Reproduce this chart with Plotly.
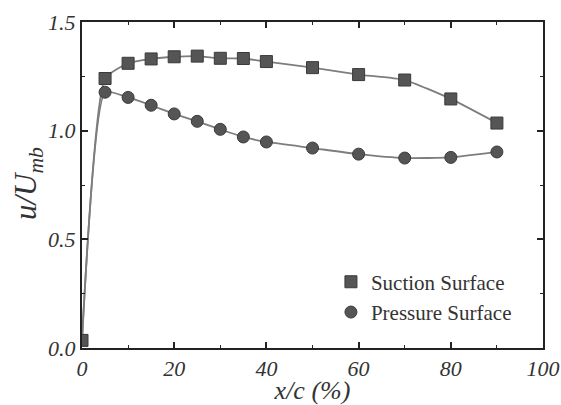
import plotly.graph_objects as go

x_suction = [0, 5, 10, 15, 20, 25, 30, 35, 40, 50, 60, 70, 80, 90]
u_suction = [0.035, 1.24, 1.31, 1.33, 1.34, 1.343, 1.333, 1.332, 1.318, 1.29, 1.258, 1.233, 1.146, 1.035]

x_pressure = [5, 10, 15, 20, 25, 30, 35, 40, 50, 60, 70, 80, 90]
u_pressure = [1.177, 1.153, 1.117, 1.077, 1.043, 1.006, 0.971, 0.948, 0.92, 0.892, 0.874, 0.877, 0.902]
x_pressure_start = 0
u_pressure_start = 0.035

line_color = "#7d7d7d"
mark_color = "#555555"
serif = "Liberation Serif, Times New Roman, Times, serif"

fig = go.Figure()
fig.add_trace(go.Scatter(x=x_suction, y=u_suction, mode="lines",
                         line=dict(color=line_color, width=1.8, shape="spline", smoothing=0.5),
                         showlegend=False, hoverinfo="skip"))
fig.add_trace(go.Scatter(x=[x_pressure_start] + x_pressure, y=[u_pressure_start] + u_pressure, mode="lines",
                         line=dict(color=line_color, width=1.8, shape="spline", smoothing=0.5),
                         showlegend=False, hoverinfo="skip"))
fig.add_trace(go.Scatter(x=x_suction, y=u_suction, mode="markers", name="Suction Surface",
                         marker=dict(symbol="square", size=12, color=mark_color,
                                     line=dict(color="#3a3a3a", width=1))))
fig.add_trace(go.Scatter(x=x_pressure, y=u_pressure, mode="markers", name="Pressure Surface",
                         marker=dict(symbol="circle", size=12, color=mark_color,
                                     line=dict(color="#3a3a3a", width=1))))

axis_common = dict(showgrid=False, zeroline=False, showline=True, linecolor="#222222", linewidth=2,
                   mirror="allticks", ticks="inside", ticklen=6, tickwidth=1.5, tickcolor="#222222",
                   automargin=False,
                   tickfont=dict(family=serif, size=22, color="#333333", style="italic"))

fig.update_xaxes(range=[0, 100], tick0=0, dtick=20,
                 minor=dict(ticks="inside", dtick=10, ticklen=3, tickwidth=1.2, tickcolor="#222222"),
                 title=dict(text="x/c (%)", font=dict(family=serif, size=26, color="#333333", style="italic")),
                 **axis_common)
fig.update_yaxes(range=[0, 1.5], tick0=0, dtick=0.5, tickformat=".1f",
                 minor=dict(ticks="inside", dtick=0.25, ticklen=3, tickwidth=1.2, tickcolor="#222222"),
                 **axis_common)

fig.add_annotation(text="u/U<sub>mb</sub>", xref="paper", yref="paper", x=-0.117, y=0.503,
                   textangle=-90, showarrow=False, xanchor="center", yanchor="middle",
                   font=dict(family=serif, size=31, color="#333333", style="italic"))

fig.update_layout(width=561, height=405, margin=dict(l=82, r=18, t=22, b=57),
                  paper_bgcolor="white", plot_bgcolor="white",
                  legend=dict(x=0.54, y=0.265, xanchor="left", yanchor="top", bgcolor="rgba(0,0,0,0)",
                              font=dict(family=serif, size=21, color="#333333"), itemwidth=30,
                              tracegroupgap=0))

fig.write_html("out.html")
